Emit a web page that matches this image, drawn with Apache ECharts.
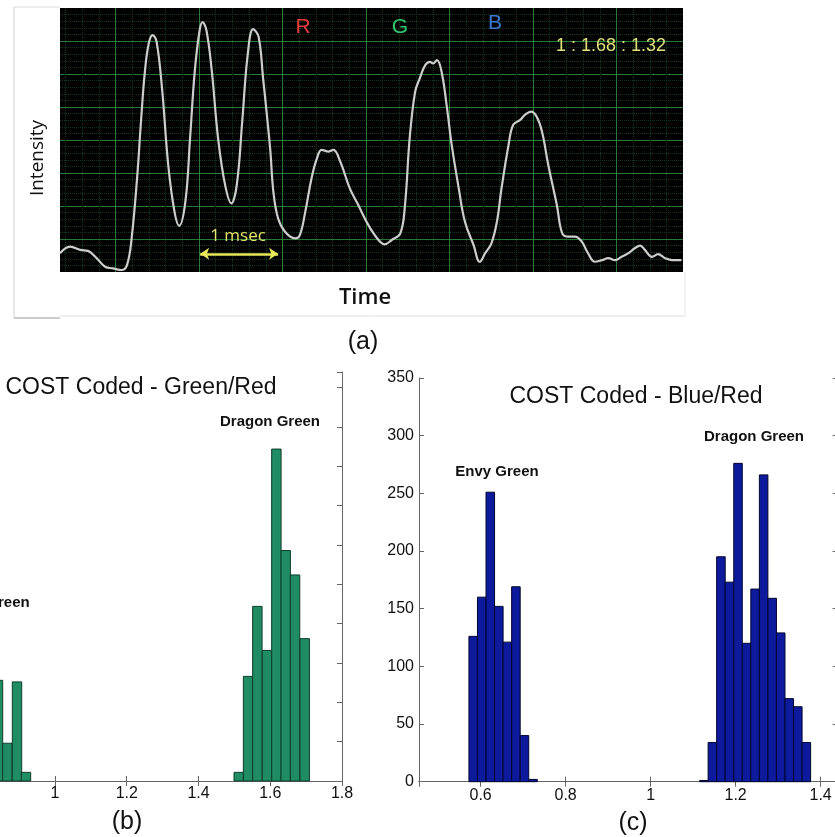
<!DOCTYPE html>
<html>
<head>
<meta charset="utf-8">
<script src="https://cdn.jsdelivr.net/npm/echarts@6/dist/echarts.min.js"></script>
<style>
  html, body { margin: 0; padding: 0; background: #fff; overflow: hidden; }
  #chart { width: 835px; height: 837px; }
</style>
</head>
<body>
<div id="chart"></div>
<script>
// (a) oscilloscope trace, time in msec, intensity in grid divisions
const traceTime = [
  0, 0.13, 0.26, 0.36, 0.47, 0.58, 0.68, 0.79, 0.86, 0.92,
  0.99, 1.04, 1.09, 1.14, 1.19, 1.24, 1.31, 1.39, 1.47, 1.53,
  1.61, 1.67, 1.73, 1.79, 1.83, 1.88, 1.95, 2.03, 2.12, 2.20,
  2.27, 2.34, 2.41, 2.48, 2.55, 2.61, 2.65, 2.70, 2.74, 2.80,
  2.89, 3.02, 3.08, 3.15, 3.23, 3.30, 3.36, 3.45, 3.51, 3.60,
  3.72, 3.83, 3.96, 4.09, 4.17, 4.26, 4.37, 4.43, 4.49, 4.56,
  4.62, 4.69, 4.75, 4.79, 4.84, 4.90, 4.97, 5.03, 5.12, 5.20,
  5.31, 5.39, 5.46, 5.54, 5.61, 5.67, 5.76, 5.82, 5.91, 5.97,
  6.05, 6.12, 6.19, 6.27, 6.38, 6.45, 6.53, 6.61, 6.70, 6.78,
  6.87, 6.96, 7.04, 7.13, 7.21, 7.30, 7.38, 7.45, 7.51, 7.60,
  7.68, 7.77, 7.86, 7.98
]
const traceLevel = [
  0.57, 0.77, 0.67, 0.64, 0.42, 0.16, 0.11, 0.06, 0.21, 1.03,
  2.85, 4.56, 6.07, 6.93, 7.18, 6.98, 5.57, 3.24, 1.83, 1.40,
  2.13, 4.05, 6.07, 7.28, 7.57, 7.33, 6.07, 4.05, 2.64, 2.08,
  2.64, 4.56, 6.58, 7.36, 7.13, 5.82, 4.91, 3.70, 2.43, 1.63,
  1.22, 1.02, 1.12, 1.83, 2.84, 3.45, 3.70, 3.65, 3.70, 3.34,
  2.54, 2.03, 1.42, 0.97, 0.84, 0.97, 1.17, 2.03, 4.05, 5.46,
  5.87, 6.27, 6.37, 6.32, 6.42, 6.07, 4.96, 3.85, 2.54, 1.52,
  0.82, 0.31, 0.57, 0.87, 1.52, 2.54, 3.85, 4.46, 4.61, 4.76,
  4.86, 4.71, 4.25, 3.24, 2.03, 1.17, 1.07, 1.07, 0.92, 0.57,
  0.31, 0.36, 0.42, 0.36, 0.46, 0.57, 0.72, 0.80, 0.67, 0.46,
  0.54, 0.42, 0.36, 0.36
]
const scaleBar = [1.8, 2.8]   // the "1 msec" arrow, msec
const scaleBarLevel = 0.55

// (b) COST Coded - Green/Red histogram (left bin edges + counts)
const binWidthB = 0.0262
const envyLeftB = [0.828, 0.854, 0.881, 0.906]
const envyCountB = [128, 48, 126, 11]
const dragonLeftB = [1.499, 1.525, 1.551, 1.578, 1.604, 1.630, 1.656, 1.683]
const dragonCountB = [11, 133, 222, 166, 422, 293, 262, 181]

// (c) COST Coded - Blue/Red histogram
const binWidthC = 0.0201
const envyLeftC = [0.5725, 0.5926, 0.6127, 0.6328, 0.6529, 0.6730, 0.6931, 0.7132]
const envyCountC = [126, 160, 251, 152, 121, 169, 40, 2]
const dragonLeftC = [1.1152, 1.1353, 1.1554, 1.1755, 1.1956, 1.2157, 1.2358,
  1.2559, 1.2760, 1.2961, 1.3162, 1.3363, 1.3564]
const dragonCountC = [1, 34, 195, 173, 276, 120, 167, 266, 159, 129, 72, 65, 34]

const sans = "'Liberation Sans', Arial, sans-serif"
const soft = "'Open Sans', 'Liberation Sans', sans-serif"

const chart = echarts.init(document.getElementById('chart'))

function bins (left, counts, width) {
  return left.map((x, i) => [x, x + width, counts[i]])
}

function renderBin (fill, edge) {
  return function (params, api) {
    const p0 = api.coord([api.value(0), api.value(2)])
    const p1 = api.coord([api.value(1), 0])
    return {
      type: 'rect',
      shape: { x: p0[0], y: p0[1], width: p1[0] - p0[0], height: p1[1] - p0[1] },
      style: { fill: fill, stroke: edge, lineWidth: 1 }
    }
  }
}

function label (text, x, y, font, fill, extra) {
  return Object.assign({
    type: 'text', x: x, y: y, z: 100,
    style: {
      text: text, font: font, fill: fill,
      align: 'center', verticalAlign: 'middle',
      textAlign: 'center', textVerticalAlign: 'middle'
    }
  }, extra || {})
}

function line (x1, y1, x2, y2, color) {
  return { type: 'line', z: 100, shape: { x1, y1, x2, y2 }, style: { stroke: color, lineWidth: 1 } }
}

// common look of the MATLAB style axes in (b) and (c)
function boxAxis (extra) {
  return Object.assign({
    type: 'value',
    axisLine: { show: true, lineStyle: { color: '#666', width: 1 } },
    axisTick: { show: true, inside: true, length: 5, lineStyle: { color: '#666' } },
    axisLabel: { show: true, color: '#111', fontSize: 16, fontFamily: sans },
    splitLine: { show: false }
  }, extra)
}

const option = {
  animation: false,
  grid: [
    { left: 60, top: 8, width: 623, height: 264, show: true, backgroundColor: '#000', borderWidth: 0, outerBoundsMode: 'none' },
    { left: -88.5, top: 372, width: 430.5, height: 409, show: false, outerBoundsMode: 'none' },
    { left: 419, top: 378, width: 418.6, height: 403.7, show: false, outerBoundsMode: 'none' }
  ],
  xAxis: [
    // trace time axis
    { type: 'value', gridIndex: 0, min: 0, max: 8, show: false },
    // green scope graticule
    {
      type: 'value', gridIndex: 0, min: -0.665, max: 6.796, splitNumber: 7,
      axisLine: { show: false }, axisTick: { show: false }, axisLabel: { show: false },
      splitLine: { show: true, showMinLine: false, showMaxLine: false, lineStyle: { color: 'rgba(50,150,70,0.8)', width: 1 } },
      minorTick: { show: false, splitNumber: 5 },
      minorSplitLine: { show: true, lineStyle: { color: '#0e3818', width: 1, type: 'dotted' } }
    },
    boxAxis({ gridIndex: 1, min: 0.6, max: 1.8, interval: 0.2, position: 'bottom', axisLabel: { color: '#111', fontSize: 16, fontFamily: sans, margin: 5 } }),
    boxAxis({ gridIndex: 1, min: 0.6, max: 1.8, interval: 0.2, position: 'top', axisLabel: { show: false } }),
    boxAxis({ gridIndex: 2, min: 0.455, max: 1.44, splitNumber: 5, position: 'bottom', axisLabel: { color: '#111', fontSize: 16, fontFamily: sans, margin: 6, showMinLabel: false, showMaxLabel: false } }),
    boxAxis({ gridIndex: 2, min: 0.455, max: 1.44, splitNumber: 5, position: 'top', axisLabel: { show: false } })
  ],
  yAxis: [
    {
      type: 'value', gridIndex: 0, min: 0, max: 8, interval: 1,
      axisLine: { show: false }, axisTick: { show: false }, axisLabel: { show: false },
      splitLine: { show: true, showMinLine: false, showMaxLine: false, lineStyle: { color: 'rgba(50,150,70,0.8)', width: 1 } },
      minorTick: { show: false, splitNumber: 5 },
      minorSplitLine: { show: true, lineStyle: { color: '#0e3818', width: 1, type: 'dotted' } }
    },
    boxAxis({ gridIndex: 1, min: 0, max: 520, interval: 50, position: 'left' }),
    boxAxis({ gridIndex: 1, min: 0, max: 520, interval: 50, position: 'right', axisLabel: { show: false } }),
    boxAxis({ gridIndex: 2, min: 0, max: 350, interval: 50, position: 'left', axisLabel: { color: '#111', fontSize: 16, fontFamily: sans, margin: 5 } }),
    boxAxis({ gridIndex: 2, min: 0, max: 350, interval: 50, position: 'right', axisLabel: { show: false } })
  ],
  series: [
    {
      name: 'trace',
      type: 'line',
      xAxisIndex: 0,
      yAxisIndex: 0,
      data: traceTime.map((t, i) => [t, traceLevel[i]]),
      showSymbol: false,
      smooth: 0.4,
      lineStyle: { color: '#cdcdcd', width: 2.2 },
      markLine: {
        silent: true,
        symbol: ['arrow', 'arrow'],
        symbolSize: [9, 9],
        lineStyle: { color: '#e8e85a', width: 2.5, type: 'solid' },
        label: { show: false },
        data: [[{ coord: [scaleBar[0], scaleBarLevel] }, { coord: [scaleBar[1], scaleBarLevel] }]]
      }
    },
    { type: 'custom', xAxisIndex: 2, yAxisIndex: 1, data: bins(envyLeftB, envyCountB, binWidthB), renderItem: renderBin('#1f8c63', '#0e3d2a') },
    { type: 'custom', xAxisIndex: 2, yAxisIndex: 1, data: bins(dragonLeftB, dragonCountB, binWidthB), renderItem: renderBin('#1f8c63', '#0e3d2a') },
    { type: 'custom', xAxisIndex: 4, yAxisIndex: 3, data: bins(envyLeftC, envyCountC, binWidthC), renderItem: renderBin('#0d1a9c', '#00062e') },
    { type: 'custom', xAxisIndex: 4, yAxisIndex: 3, data: bins(dragonLeftC, dragonCountC, binWidthC), renderItem: renderBin('#0d1a9c', '#00062e') }
  ],
  graphic: {
    elements: [
      // frame of the scope picture
      line(14, 7, 60, 7, '#dcdcdc'),
      line(14, 7, 14, 318, '#d0d0d0'),
      line(14, 318, 60, 318, '#9a9a9a'),
      line(60, 316, 685, 316, '#dedede'),
      line(685, 272, 685, 316, '#e6e6e6'),
      label('Intensity', 38, 158, '19px ' + soft, '#111', { rotation: Math.PI / 2 }),
      label('Time', 365, 298, '600 22px ' + soft, '#111'),
      label('R', 303, 27, '21px ' + sans, '#e53b3b'),
      label('G', 400, 27, '21px ' + sans, '#2fc76a'),
      label('B', 495, 23, '21px ' + sans, '#3b78d4'),
      label('1 : 1.68 : 1.32', 611, 46, "18px 'Liberation Sans Narrow', " + sans, '#e2e27a'),
      label('1 msec', 238, 236, '17px ' + soft, '#e3e36a'),
      label('(a)', 363, 342, '25px ' + sans, '#111'),
      // (b)
      label('COST Coded - Green/Red', 141, 388, '23px ' + sans, '#111'),
      label('Dragon Green', 270, 422, 'bold 15px ' + sans, '#111'),
      label('Envy Green', -12, 603, 'bold 15px ' + sans, '#111'),
      label('(b)', 127, 822, '25px ' + sans, '#111'),
      // (c)
      label('COST Coded - Blue/Red', 636, 397, '23px ' + sans, '#111'),
      label('Dragon Green', 754, 437, 'bold 15px ' + sans, '#111'),
      label('Envy Green', 497, 472, 'bold 15px ' + sans, '#111'),
      label('(c)', 633, 823, '25px ' + sans, '#111')
    ]
  }
}

chart.setOption(option)
</script>
</body>
</html>
